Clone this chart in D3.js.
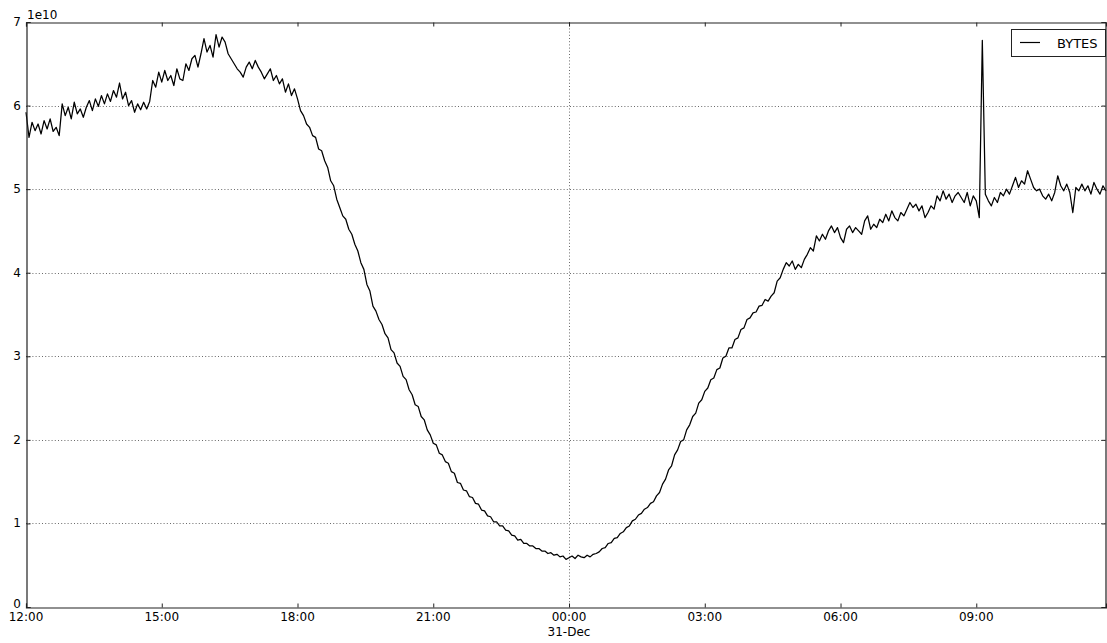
<!DOCTYPE html>
<html>
<head>
<meta charset="utf-8">
<script src="https://cdn.jsdelivr.net/npm/d3@7"></script>
<style>
  html, body { margin: 0; padding: 0; background: #fff; }
  svg { display: block; }
  text { font-family: "DejaVu Sans", sans-serif; fill: #000; }
</style>
</head>
<body>
<svg id="chart" width="1107" height="643"></svg>
<script>
// Series: traffic volume sampled every 4 minutes, in units of 1e10 bytes
const seriesName = "BYTES";
const startTime = Date.UTC(2014, 11, 30, 12, 0);
const stepMinutes = 4;
const bytes = [
  5.92, 5.62, 5.80, 5.70, 5.78, 5.66, 5.82, 5.72, 5.84, 5.69,
  5.74, 5.64, 6.02, 5.88, 5.98, 5.84, 6.04, 5.90, 5.96, 5.86,
  5.98, 6.06, 5.94, 6.08, 5.99, 6.12, 6.02, 6.14, 6.05, 6.18,
  6.10, 6.27, 6.08, 6.16, 6.00, 6.06, 5.92, 6.02, 5.95, 6.04,
  5.96, 6.05, 6.30, 6.22, 6.40, 6.28, 6.42, 6.30, 6.36, 6.24,
  6.44, 6.32, 6.30, 6.50, 6.42, 6.56, 6.60, 6.46, 6.62, 6.80,
  6.64, 6.72, 6.58, 6.85, 6.70, 6.82, 6.76, 6.62, 6.56, 6.50,
  6.44, 6.40, 6.34, 6.46, 6.52, 6.44, 6.54, 6.46, 6.40, 6.32,
  6.38, 6.44, 6.30, 6.36, 6.26, 6.32, 6.16, 6.26, 6.12, 6.20,
  6.08, 5.94, 5.88, 5.78, 5.74, 5.64, 5.62, 5.48, 5.46, 5.34,
  5.26, 5.10, 5.04, 4.88, 4.78, 4.68, 4.64, 4.52, 4.46, 4.34,
  4.26, 4.12, 4.04, 3.86, 3.78, 3.60, 3.54, 3.44, 3.38, 3.27,
  3.22, 3.08, 3.04, 2.92, 2.88, 2.76, 2.72, 2.60, 2.54, 2.42,
  2.40, 2.28, 2.24, 2.12, 2.06, 1.96, 1.94, 1.84, 1.82, 1.74,
  1.72, 1.62, 1.60, 1.49, 1.48, 1.40, 1.39, 1.32, 1.31, 1.24,
  1.23, 1.16, 1.15, 1.09, 1.08, 1.02, 1.02, 0.97, 0.97, 0.92,
  0.91, 0.86, 0.85, 0.80, 0.81, 0.76, 0.76, 0.73, 0.73, 0.70,
  0.70, 0.67, 0.67, 0.64, 0.65, 0.62, 0.63, 0.60, 0.61, 0.57,
  0.59, 0.61, 0.58, 0.62, 0.60, 0.59, 0.62, 0.60, 0.63, 0.64,
  0.66, 0.70, 0.71, 0.76, 0.77, 0.82, 0.83, 0.88, 0.90, 0.95,
  0.97, 1.03, 1.05, 1.10, 1.12, 1.17, 1.19, 1.24, 1.26, 1.33,
  1.37, 1.47, 1.53, 1.64, 1.69, 1.82, 1.88, 1.98, 2.00, 2.12,
  2.18, 2.28, 2.32, 2.44, 2.48, 2.58, 2.62, 2.72, 2.74, 2.84,
  2.86, 2.98, 3.00, 3.10, 3.10, 3.20, 3.22, 3.32, 3.34, 3.44,
  3.46, 3.52, 3.53, 3.60, 3.61, 3.68, 3.66, 3.72, 3.76, 3.90,
  3.94, 4.04, 4.12, 4.08, 4.14, 4.04, 4.10, 4.06, 4.16, 4.22,
  4.30, 4.26, 4.44, 4.38, 4.46, 4.40, 4.50, 4.56, 4.48, 4.54,
  4.42, 4.36, 4.52, 4.56, 4.48, 4.54, 4.50, 4.46, 4.62, 4.68,
  4.52, 4.58, 4.54, 4.64, 4.60, 4.70, 4.62, 4.74, 4.66, 4.62,
  4.72, 4.68, 4.76, 4.84, 4.78, 4.82, 4.74, 4.80, 4.66, 4.72,
  4.80, 4.76, 4.92, 4.86, 4.98, 4.88, 4.94, 4.84, 4.92, 4.96,
  4.90, 4.84, 4.96, 4.80, 4.92, 4.86, 4.66, 6.78, 4.94, 4.86,
  4.80, 4.90, 4.84, 4.96, 4.92, 5.00, 4.94, 5.04, 5.14, 5.02,
  5.10, 5.06, 5.22, 5.12, 5.02, 4.98, 5.00, 4.92, 4.88, 4.94,
  4.86, 4.96, 5.16, 5.04, 4.98, 5.06, 4.96, 4.72, 5.02, 4.98,
  5.06, 4.98, 5.04, 4.94, 5.08, 5.00, 4.94, 5.04, 4.98
];
const yTicks = [0, 1, 2, 3, 4, 5, 6, 7];
const yExponentLabel = "1e10";
const gridYTicks = [1, 2, 3, 4, 5, 6];
const dayLabel = "31-Dec";

const points = bytes.map((v, i) => ({ t: new Date(startTime + i * stepMinutes * 60000), v }));

const svg = d3.select("#chart");
const plotLeft = 26, plotRight = 1106, plotTop = 22, plotBottom = 607;

const x = d3.scaleUtc()
  .domain([points[0].t, points[points.length - 1].t])
  .range([plotLeft, plotRight]);
const y = d3.scaleLinear().domain([0, 7]).range([plotBottom, plotTop]);

const xTicks = x.ticks(d3.utcHour.every(3));
const majorX = xTicks.filter(d => d.getUTCHours() === 0);

// dotted grid: horizontal at value ticks, vertical at midnight
const grid = svg.append("g")
  .attr("stroke", "#444").attr("stroke-width", 0.8).attr("stroke-dasharray", "1,2.2");
grid.selectAll("line.gy").data(gridYTicks).join("line")
  .attr("x1", plotLeft).attr("x2", plotRight)
  .attr("y1", d => Math.round(y(d)) + 0.5).attr("y2", d => Math.round(y(d)) + 0.5);
grid.selectAll("line.gx").data(majorX).join("line")
  .attr("x1", d => Math.round(x(d)) + 0.5).attr("x2", d => Math.round(x(d)) + 0.5)
  .attr("y1", plotTop).attr("y2", plotBottom);

// series line
const line = d3.line().x(d => x(d.t)).y(d => y(d.v));
svg.append("path").datum(points)
  .attr("d", line)
  .attr("fill", "none").attr("stroke", "#000").attr("stroke-width", 1.25)
  .attr("stroke-linejoin", "round");

// axes with inward ticks on all four sides
const tickLen = 4;
const bottomAxis = d3.axisBottom(x).tickValues(xTicks).tickSize(-tickLen).tickFormat("");
const topAxis = d3.axisTop(x).tickValues(xTicks).tickSize(-tickLen).tickFormat("");
const leftAxis = d3.axisLeft(y).tickValues(yTicks).tickSize(-tickLen).tickFormat("");
const rightAxis = d3.axisRight(y).tickValues(yTicks).tickSize(-tickLen).tickFormat("");

[[bottomAxis, `translate(0,${plotBottom + 0.5})`], [topAxis, `translate(0,${plotTop + 0.5})`],
 [leftAxis, `translate(${plotLeft + 0.5},0)`], [rightAxis, `translate(${plotRight - 0.5},0)`]]
  .forEach(([ax, tr]) => {
    const g = svg.append("g").attr("transform", tr).call(ax);
    g.select(".domain").attr("stroke", "#222").attr("stroke-width", 1.2);
    g.selectAll(".tick line").attr("stroke", "#222");
  });

// x tick labels
const fmt = d3.utcFormat("%H:%M");
const xl = svg.append("g").attr("font-size", 12).attr("text-anchor", "middle");
xTicks.forEach(d => {
  xl.append("text").attr("x", x(d)).attr("y", 621).text(fmt(d));
  if (d.getUTCHours() === 0) {
    xl.append("text").attr("x", x(d)).attr("y", 636).text(dayLabel);
  }
});

// y tick labels
svg.append("g").attr("font-size", 12).attr("text-anchor", "end")
  .selectAll("text").data(yTicks).join("text")
  .attr("x", 21).attr("y", d => y(d) + (d === 0 ? 1 : 4)).text(d => d);
svg.append("text").attr("x", 27).attr("y", 19).attr("font-size", 12).text(yExponentLabel);

// legend
const lg = svg.append("g");
lg.append("rect").attr("x", 1011.5).attr("y", 29.5).attr("width", 94).attr("height", 27)
  .attr("fill", "#fff").attr("stroke", "#222").attr("stroke-width", 1);
lg.append("line").attr("x1", 1020).attr("x2", 1040).attr("y1", 42.5).attr("y2", 42.5)
  .attr("stroke", "#000").attr("stroke-width", 1.2);
lg.append("text").attr("x", 1057).attr("y", 47.5).attr("font-size", 13).text(seriesName);
</script>
</body>
</html>
